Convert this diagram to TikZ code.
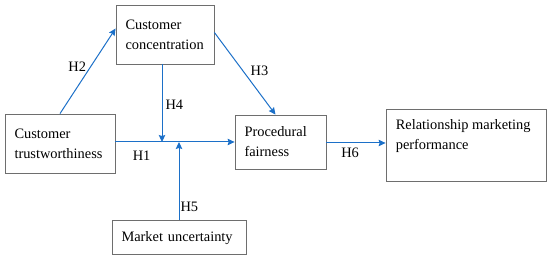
\documentclass[tikz,border=0pt]{standalone}
\usepackage{fontspec}
\setmainfont{Liberation Serif}
\usetikzlibrary{arrows.meta,positioning,calc}
\definecolor{hypblue}{RGB}{28,112,200}
\definecolor{boxgray}{RGB}{110,110,110}

\begin{document}
\begin{tikzpicture}[
    x=1pt, y=1pt,
    box/.style={rectangle, draw=boxgray, line width=0.8pt, inner xsep=9.5pt, inner ysep=0pt, align=left, font=\fontsize{14.4}{20}\selectfont},
    txt/.style={inner sep=0pt, align=left, font=\fontsize{14.4}{19.5}\selectfont},
    lbl/.style={inner sep=1pt, font=\fontsize{14.4}{17}\selectfont},
    arrow/.style={-{Stealth[length=7pt,width=6.5pt,inset=1pt]},line width=1pt,draw=hypblue},
]
\useasboundingbox (0,0) rectangle (550,259);

% Constructs
\node[box, text width=79pt, minimum height=59pt] (conc) at (165,224.5) {Customer\\concentration};
\node[box, text width=91pt, minimum height=59pt] (trust) at (60,115.5) {Customer\\trustworthiness};
\node[box, text width=72pt, minimum height=54pt] (fair) at (280.5,117) {Procedural\\fairness};
\node[box, text width=115pt, minimum height=34pt, text depth=0pt] (mkt) at (179,22) {Market uncertainty};
\node[box, text width=141pt, minimum height=72pt] (rel) at (466,114) {};
\node[txt, anchor=north west] (reltxt) at ([shift={(10pt,-11pt)}]rel.north west) {Relationship marketing\\performance};

% Hypotheses
\draw[arrow] (trust.north) -- node[lbl, pos=0.55, left=3pt] (h2) {H2} ([yshift=6pt]conc.west);
\draw[arrow] ([yshift=2pt]conc.east) -- node[lbl, pos=0.47, right=6pt] (h3) {H3} ([xshift=-5pt]fair.north);
\draw[arrow] (trust.east |- fair.west) -- node[lbl, pos=0.22, below=7pt] (h1) {H1} (fair.west);
\draw[arrow] ([xshift=-3pt]conc.south) -- node[lbl, pos=0.52, right=2pt] (h4) {H4} ([xshift=-3pt]conc.south |- fair.west);
\draw[arrow] (mkt.north) -- node[lbl, pos=0.17, right=0pt] (h5) {H5} (mkt.north |- fair.west);
\draw[arrow] ([yshift=-1pt]fair.east) -- node[lbl, pos=0.4, below=3pt] (h6) {H6} ([yshift=-1pt]fair.east -| rel.west);

\end{tikzpicture}
\end{document}
